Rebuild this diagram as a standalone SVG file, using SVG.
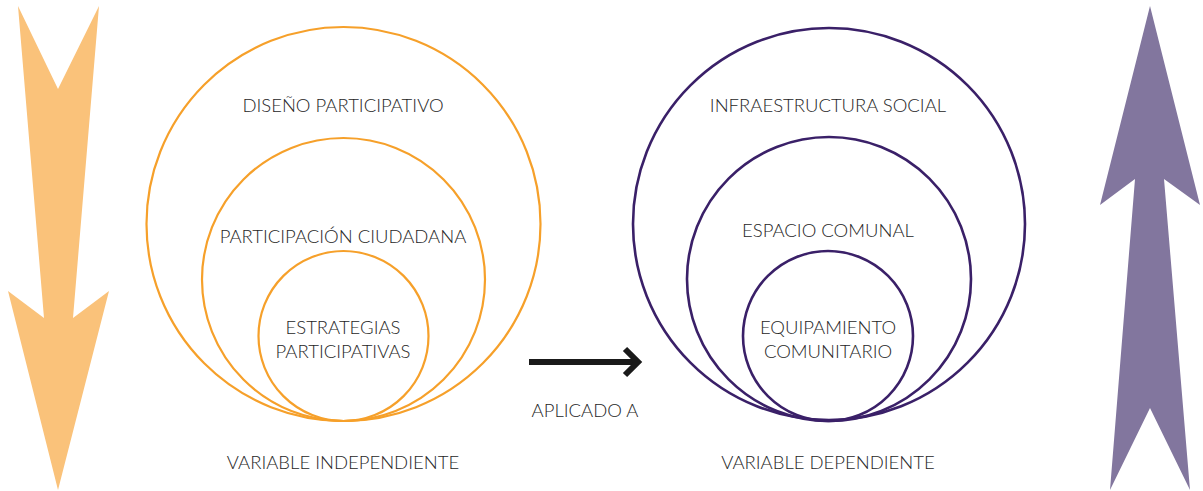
<svg xmlns="http://www.w3.org/2000/svg" width="1203" height="491" viewBox="0 0 1203 491">
<style>
text{font-family:Lato,"Liberation Sans",sans-serif;font-size:18.5px;fill:#262626;text-anchor:middle;font-weight:300}
.o{fill:none;stroke:#F6A02A;stroke-width:2.2}
.p{fill:none;stroke:#3A2068;stroke-width:2.6}
</style>
<rect width="1203" height="491" fill="#fff"/>
<g id="arrow-down"><polygon points="18,6 58,89 99,6 73,318 109,291 58,490 8,291 44,318" fill="#FAC27A"/></g>
<g id="arrow-up"><polygon points="1150,6 1200,205 1164,179 1190,490 1150,408 1110,490 1135,179 1100,205" fill="#82769E"/></g>
<g id="diseno"><circle class="o" cx="343.5" cy="224" r="197"/><text x="343" y="112">DISEÑO PARTICIPATIVO</text></g>
<g id="participacion"><circle class="o" cx="343.5" cy="279.5" r="141.5"/><text x="343" y="243">PARTICIPACIÓN CIUDADANA</text></g>
<g id="estrategias"><circle class="o" cx="343.5" cy="336" r="85"/><text x="343" y="334">ESTRATEGIAS</text><text x="343" y="358">PARTICIPATIVAS</text></g>
<g id="var-ind"><text x="343" y="469">VARIABLE INDEPENDIENTE</text></g>
<g id="infra"><circle class="p" cx="829" cy="224" r="196"/><text x="828" y="112">INFRAESTRUCTURA SOCIAL</text></g>
<g id="espacio"><circle class="p" cx="829" cy="279" r="142"/><text x="828" y="237">ESPACIO COMUNAL</text></g>
<g id="equipamiento"><circle class="p" cx="828" cy="336" r="85"/><text x="828" y="334">EQUIPAMIENTO</text><text x="828" y="358">COMUNITARIO</text></g>
<g id="var-dep"><text x="828" y="469">VARIABLE DEPENDIENTE</text></g>
<g id="connectors">
<line x1="529" y1="362" x2="638" y2="362" stroke="#1a1a1a" stroke-width="6"/>
<polyline points="625,349 638,362 625,375" fill="none" stroke="#1a1a1a" stroke-width="6"/>
<text x="585" y="417">APLICADO A</text>
</g>
</svg>
